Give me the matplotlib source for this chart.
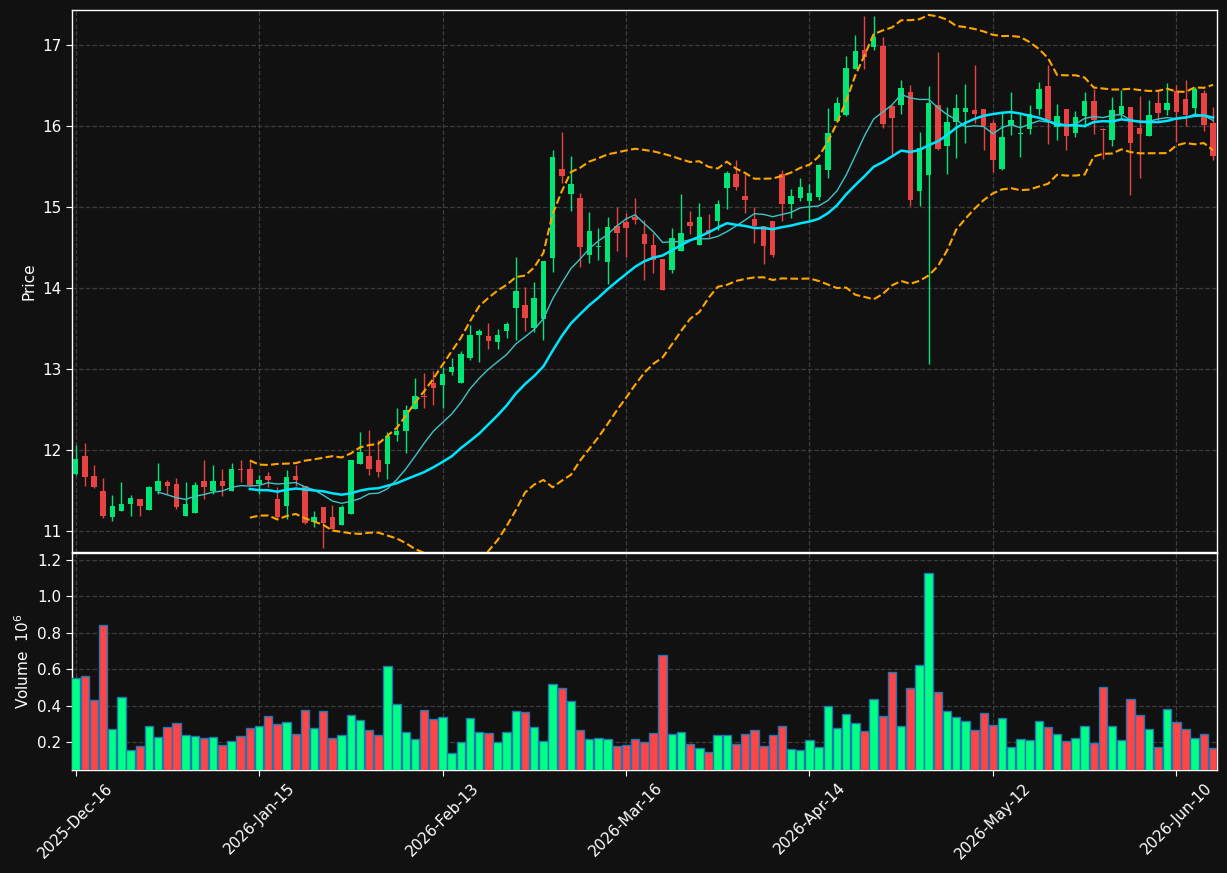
import numpy as np
import pandas as pd
import matplotlib
matplotlib.use("Agg")
import matplotlib.pyplot as plt
from pandas.tseries.offsets import CustomBusinessDay

# ---------------- data ----------------
holidays = ["2025-12-25", "2026-01-01", "2026-01-19", "2026-02-16",
            "2026-04-03", "2026-05-25"]
start_date = "2025-12-16"
n_bars = 125

opens = [11.70, 11.92, 11.68, 11.49, 11.17, 11.24, 11.33, 11.39, 11.26, 11.49,
         11.61, 11.58, 11.19, 11.22, 11.62, 11.49, 11.62, 11.49, 11.76, 11.76,
         11.58, 11.68, 11.39, 11.31, 11.68, 11.55, 11.11, 11.29, 11.17, 11.07,
         11.21, 11.83, 11.92, 11.87, 11.83, 12.18, 12.23, 12.51, 12.66, 12.83,
         12.80, 12.96, 12.82, 13.14, 13.42, 13.41, 13.33, 13.47, 13.75, 13.79,
         13.50, 13.62, 14.37, 15.47, 15.16, 15.11, 14.41, 14.51, 14.32, 14.76,
         14.81, 14.87, 14.66, 14.53, 14.36, 14.22, 14.46, 14.81, 14.53, 14.71,
         14.82, 15.23, 15.40, 15.14, 14.85, 14.77, 14.82, 15.40, 15.03, 15.11,
         15.07, 15.12, 15.45, 16.06, 16.14, 16.70, 16.94, 16.97, 16.99, 16.24,
         16.26, 16.42, 15.19, 15.39, 16.26, 15.75, 16.05, 16.17, 16.20, 16.21,
         16.03, 15.47, 16.01, 15.90, 15.96, 16.21, 16.49, 15.98, 16.21, 15.91,
         16.12, 16.31, 15.96, 15.82, 16.15, 16.23, 15.97, 15.88, 16.28, 16.19,
         16.43, 16.33, 16.22, 16.41, 16.04]
highs = [12.06, 12.08, 11.81, 11.65, 11.44, 11.61, 11.44, 11.40, 11.55, 11.84,
         11.63, 11.65, 11.60, 11.60, 11.88, 11.81, 11.77, 11.84, 11.88, 11.88,
         11.69, 11.73, 11.54, 11.75, 11.82, 11.56, 11.24, 11.29, 11.32, 11.32,
         11.88, 12.22, 12.24, 12.12, 12.22, 12.52, 12.56, 12.89, 12.95, 12.98,
         13.02, 13.14, 13.22, 13.54, 13.49, 13.57, 13.49, 13.58, 14.38, 14.01,
         14.07, 14.33, 15.70, 15.92, 15.63, 15.17, 14.94, 14.74, 14.87, 15.00,
         14.93, 15.11, 14.84, 14.68, 14.36, 14.74, 15.16, 14.95, 15.05, 14.91,
         15.08, 15.44, 15.58, 15.40, 15.00, 14.77, 14.82, 15.46, 15.22, 15.36,
         15.28, 15.53, 16.22, 16.35, 16.86, 17.12, 17.35, 17.35, 17.10, 16.24,
         16.57, 16.51, 15.92, 16.49, 16.91, 16.23, 16.39, 16.52, 16.75, 16.21,
         16.07, 16.16, 16.42, 16.15, 16.26, 16.54, 16.75, 16.27, 16.21, 16.18,
         16.42, 16.45, 15.97, 16.35, 16.44, 16.23, 16.37, 16.32, 16.43, 16.53,
         16.50, 16.56, 16.48, 16.44, 16.23]
lows = [11.69, 11.55, 11.53, 11.16, 11.12, 11.24, 11.18, 11.19, 11.26, 11.46,
        11.45, 11.27, 11.19, 11.22, 11.39, 11.46, 11.43, 11.49, 11.60, 11.56,
        11.45, 11.54, 11.16, 11.15, 11.55, 11.08, 11.05, 10.79, 11.02, 11.07,
        11.21, 11.83, 11.69, 11.66, 11.64, 12.11, 11.96, 12.50, 12.52, 12.56,
        12.52, 12.93, 12.82, 13.11, 13.09, 13.24, 13.25, 13.38, 13.36, 13.47,
        13.46, 13.36, 14.20, 15.30, 14.95, 14.26, 14.31, 14.35, 14.05, 14.46,
        14.38, 14.79, 14.10, 14.18, 13.97, 14.18, 14.46, 14.66, 14.53, 14.63,
        14.71, 14.97, 15.21, 14.93, 14.56, 14.29, 14.38, 14.83, 14.86, 15.07,
        14.83, 15.09, 15.36, 16.06, 16.12, 16.70, 16.70, 16.94, 15.97, 15.64,
        16.15, 15.01, 15.01, 13.06, 15.70, 15.40, 15.60, 15.79, 16.04, 15.70,
        15.43, 15.46, 15.89, 15.61, 15.90, 16.14, 15.78, 15.82, 15.70, 15.86,
        15.98, 15.90, 15.59, 15.75, 16.09, 15.15, 15.36, 15.87, 16.03, 16.14,
        15.80, 16.00, 16.15, 15.94, 15.58]
closes = [11.89, 11.66, 11.54, 11.19, 11.31, 11.33, 11.41, 11.31, 11.54, 11.62,
          11.55, 11.30, 11.33, 11.57, 11.54, 11.62, 11.55, 11.76, 11.75, 11.57,
          11.63, 11.63, 11.17, 11.66, 11.63, 11.10, 11.17, 11.10, 11.03, 11.29,
          11.87, 11.97, 11.77, 11.73, 12.17, 12.23, 12.49, 12.66, 12.65, 12.77,
          12.94, 13.02, 13.19, 13.42, 13.47, 13.34, 13.42, 13.56, 13.96, 13.63,
          13.87, 14.33, 15.62, 15.38, 15.28, 14.51, 14.70, 14.52, 14.75, 14.68,
          14.74, 14.84, 14.54, 14.35, 13.98, 14.61, 14.68, 14.76, 14.88, 14.68,
          15.04, 15.42, 15.24, 15.09, 14.76, 14.52, 14.40, 15.03, 15.14, 15.24,
          15.17, 15.52, 15.91, 16.28, 16.71, 16.92, 16.85, 17.10, 16.02, 16.10,
          16.47, 15.08, 15.73, 16.28, 15.71, 16.05, 16.22, 16.22, 16.15, 16.00,
          15.58, 15.86, 16.07, 15.91, 16.15, 16.46, 16.07, 16.12, 15.87, 16.11,
          16.31, 16.07, 15.95, 16.19, 16.24, 15.79, 15.90, 16.13, 16.16, 16.28,
          16.17, 16.13, 16.46, 16.01, 15.63]
volume_m = [0.554, 0.565, 0.432, 0.841, 0.272, 0.449, 0.156, 0.178, 0.288, 0.228,
            0.283, 0.305, 0.239, 0.233, 0.222, 0.228, 0.183, 0.206, 0.233, 0.277,
            0.288, 0.344, 0.299, 0.311, 0.244, 0.377, 0.277, 0.371, 0.222, 0.239,
            0.349, 0.322, 0.266, 0.239, 0.620, 0.410, 0.255, 0.217, 0.377, 0.327,
            0.338, 0.139, 0.200, 0.333, 0.255, 0.250, 0.200, 0.255, 0.371, 0.366,
            0.283, 0.206, 0.520, 0.498, 0.427, 0.266, 0.217, 0.222, 0.217, 0.178,
            0.183, 0.217, 0.200, 0.250, 0.675, 0.244, 0.255, 0.189, 0.167, 0.145,
            0.239, 0.239, 0.189, 0.244, 0.266, 0.178, 0.239, 0.288, 0.161, 0.156,
            0.211, 0.172, 0.399, 0.277, 0.355, 0.305, 0.261, 0.438, 0.344, 0.587,
            0.288, 0.498, 0.625, 1.128, 0.476, 0.371, 0.338, 0.316, 0.266, 0.360,
            0.294, 0.333, 0.172, 0.217, 0.211, 0.316, 0.283, 0.244, 0.206, 0.222,
            0.288, 0.194, 0.504, 0.288, 0.211, 0.438, 0.349, 0.272, 0.172, 0.382,
            0.311, 0.272, 0.222, 0.244, 0.167]

mav_short = 10
mav_long = 20
bb_period = 20
bb_k = 2.0
tick_every = 20

# ---------------- derived ----------------
cbd = CustomBusinessDay(holidays=holidays)
dates = pd.date_range(start=start_date, periods=n_bars, freq=cbd)
df = pd.DataFrame({"Open": opens, "High": highs, "Low": lows,
                   "Close": closes, "Volume": volume_m}, index=dates)
x = np.arange(len(df))
up = df["Close"].values >= df["Open"].values

ma_s = df["Close"].rolling(mav_short).mean()
ma_l = df["Close"].rolling(mav_long).mean()
bb_mid = df["Close"].rolling(bb_period).mean()
bb_std = df["Close"].rolling(bb_period).std(ddof=0)
bb_up = bb_mid + bb_k * bb_std
bb_lo = bb_mid - bb_k * bb_std

# ---------------- styling ----------------
BG = "#111111"
GRID = "#3c3c3c"
C_UP = "#00e676"
C_DN = "#e84343"
V_UP = "#00ff85"
V_DN = "#ff4545"

fig = plt.figure(figsize=(12.27, 8.73), dpi=100, facecolor=BG)
axp = fig.add_axes([72/1227, 1-552/873, (1217-72)/1227, (552-10)/873])
axv = fig.add_axes([72/1227, 1-770/873, (1217-72)/1227, (770-553)/873], sharex=axp)

for ax in (axp, axv):
    ax.set_facecolor(BG)
    for s in ax.spines.values():
        s.set_color("white")
        s.set_linewidth(1.0)
    ax.tick_params(colors="white", labelcolor="white", labelsize=11, length=4)
    ax.grid(True, color=GRID, linestyle="--", linewidth=0.9)
    ax.set_axisbelow(True)

# candles
body_bottom = np.minimum(df["Open"].values, df["Close"].values)
body_h = np.maximum(np.abs(df["Close"].values - df["Open"].values), 0.012)
ccols = np.where(up, C_UP, C_DN)
axp.vlines(x, df["Low"].values, df["High"].values, colors=ccols, linewidth=1.0, zorder=2)
axp.bar(x, body_h, bottom=body_bottom, width=0.6, color=ccols, linewidth=0, zorder=3)

# moving averages and bands
axp.plot(x, ma_s.values, color="#3fc4c4", linewidth=1.0, zorder=4)
axp.plot(x, ma_l.values, color="#00e5ff", linewidth=1.8, zorder=4)
axp.plot(x, bb_up.values, color="#ffa500", linewidth=1.5, linestyle="--", zorder=4)
axp.plot(x, bb_lo.values, color="#ffa500", linewidth=1.5, linestyle="--", zorder=4)

axp.set_ylim(10.74, 17.43)
axp.set_yticks([11, 12, 13, 14, 15, 16, 17])
axp.set_ylabel("Price", color="white", fontsize=11)
axp.tick_params(axis="x", labelbottom=False, length=0)

# volume
vcols = np.where(up, V_UP, V_DN)
axv.bar(x, df["Volume"].values, width=0.92, color=vcols, edgecolor="#1f77b4",
        linewidth=1.0, zorder=3)
axv.set_ylim(0.046, 1.238)
axv.set_yticks([0.2, 0.4, 0.6, 0.8, 1.0, 1.2])
axv.set_yticklabels(["0.2", "0.4", "0.6", "0.8", "1.0", "1.2"])
axv.set_ylabel("Volume  $10^{6}$", color="white", fontsize=11)

ticks = list(range(0, len(df), tick_every))
axv.set_xticks(ticks)
axv.set_xticklabels([dates[i].strftime("%Y-%b-%d") for i in ticks], rotation=45)
axv.set_xlim(-0.39, len(df) - 1 + 0.43)

fig.savefig("out.png", dpi=100, facecolor=BG)
